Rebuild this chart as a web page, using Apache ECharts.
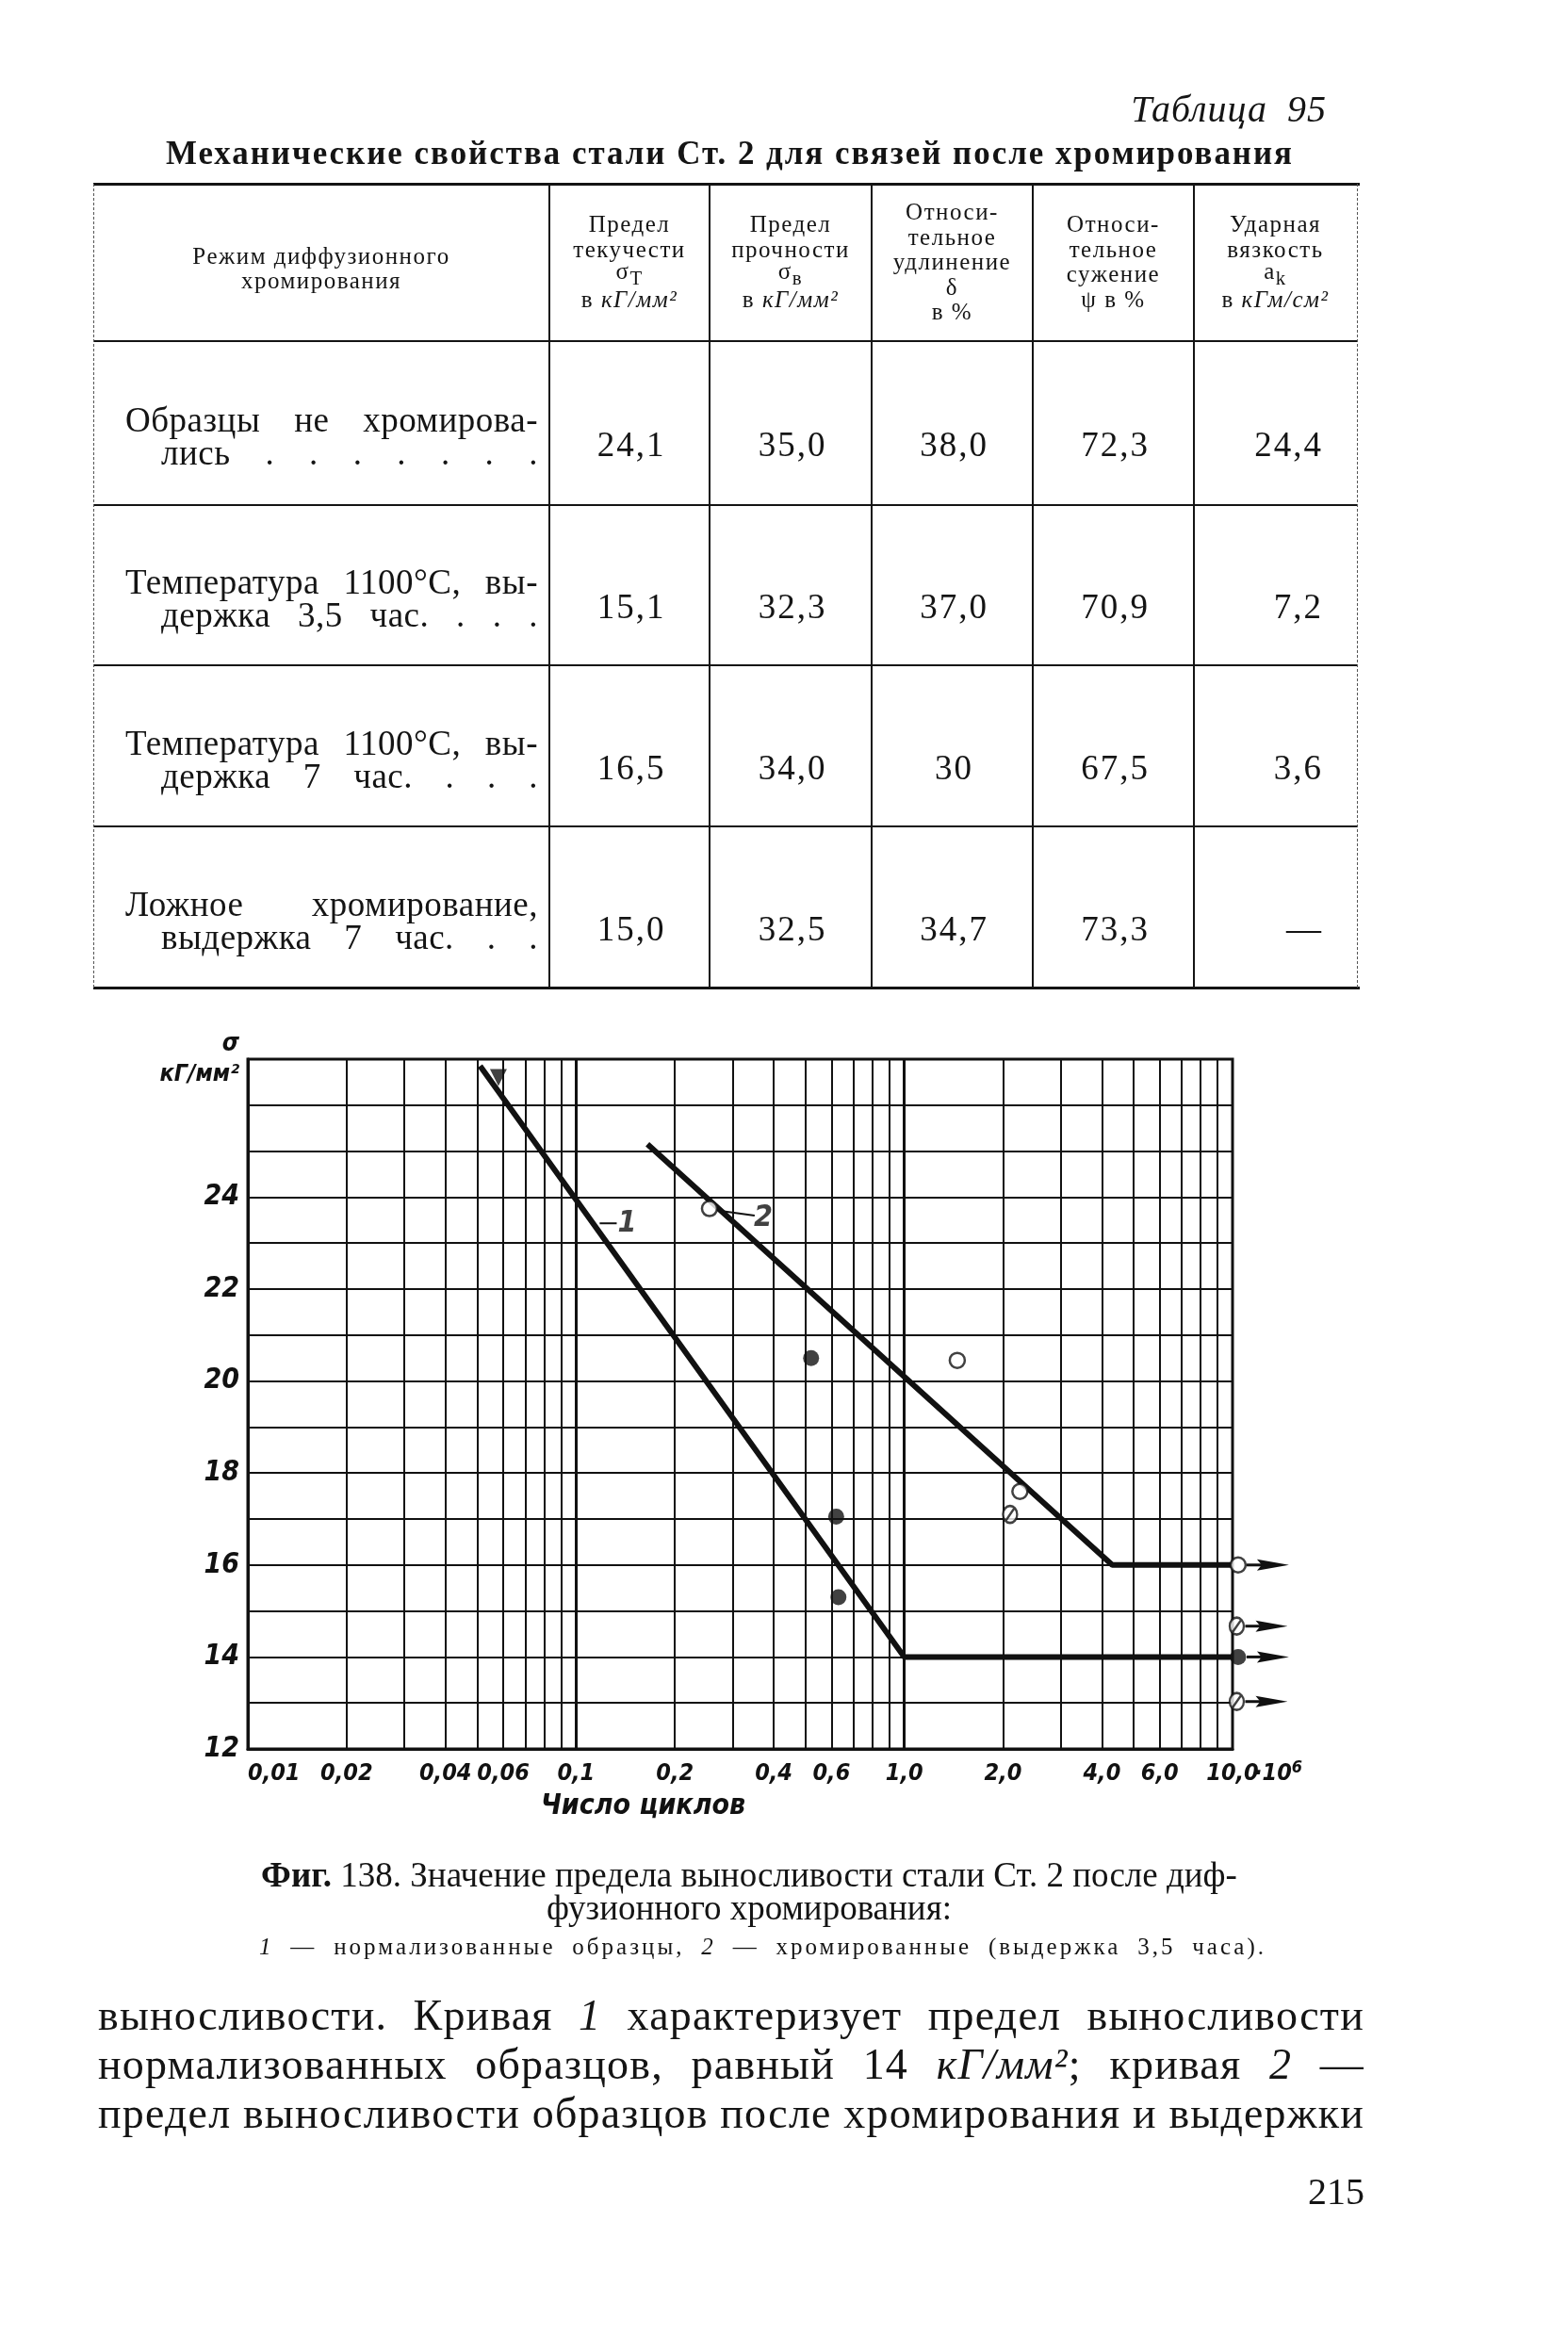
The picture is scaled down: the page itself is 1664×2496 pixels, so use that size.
<!DOCTYPE html>
<html><head><meta charset="utf-8">
<script src="https://cdn.jsdelivr.net/npm/echarts@6/dist/echarts.min.js"></script>
<style>
html,body{margin:0;padding:0;background:#fff;}
#page{position:relative;width:1664px;height:2496px;overflow:hidden;background:#fff;font-family:'Liberation Serif','DejaVu Serif',serif;color:#141414;}
#chart{position:absolute;left:0;top:0;width:1664px;height:2496px;z-index:1;}
.t{position:absolute;white-space:nowrap;z-index:2;pointer-events:none;}
.ln{position:absolute;background:#141414;z-index:2;}
</style></head><body><div id="page"><div id="chart"></div></div>
<script>
// ---------- DATA ----------
const tableNumber = 'Таблица 95';
const tableTitle = 'Механические свойства стали Ст. 2 для связей после хромирования';
const columnHeaders = [
  ['Режим диффузионного', 'хромирования'],
  ['Предел', 'текучести', 'σ<sub>T</sub>', 'в <i>кГ/мм²</i>'],
  ['Предел', 'прочности', 'σ<sub>в</sub>', 'в <i>кГ/мм²</i>'],
  ['Относи-', 'тельное', 'удлинение', 'δ', 'в %'],
  ['Относи-', 'тельное', 'сужение', 'ψ в %'],
  ['Ударная', 'вязкость', 'a<sub>k</sub>', 'в <i>кГм/см²</i>']
];
const rowLabels = [
  ['Образцы не хромирова-', 'лись . . . . . . .'],
  ['Температура 1100°С, вы-', 'держка 3,5 час. . . .'],
  ['Температура 1100°С, вы-', 'держка 7 час. . . .'],
  ['Ложное хромирование,', 'выдержка 7 час. . .']
];
const rowValues = [
  ['24,1', '35,0', '38,0', '72,3', '24,4'],
  ['15,1', '32,3', '37,0', '70,9', '7,2'],
  ['16,5', '34,0', '30', '67,5', '3,6'],
  ['15,0', '32,5', '34,7', '73,3', '—']
];
const xTickValues = [0.01, 0.02, 0.04, 0.06, 0.1, 0.2, 0.4, 0.6, 1, 2, 4, 6, 10];
const xTickLabels = ['0,01', '0,02', '0,04', '0,06', '0,1', '0,2', '0,4', '0,6', '1,0', '2,0', '4,0', '6,0', '10,0'];
const xMaxSuffix = '·10';
const xMaxExponent = '6';
const xGridValues = [0.02,0.03,0.04,0.05,0.06,0.07,0.08,0.09,0.1,0.2,0.3,0.4,0.5,0.6,0.7,0.8,0.9,1,2,3,4,5,6,7,8,9];
const yLabelValues = [12, 14, 16, 18, 20, 22, 24];
const curve1 = [[0.051, 26.85], [1.0, 14], [10, 14]];
const curve2 = [[0.165, 25.15], [4.3, 16], [10, 16]];
const filledPoints = [[0.52, 20.5], [0.62, 17.05], [0.63, 15.3], [10.4, 14]];
const openPoints = [[0.255, 23.75], [1.45, 20.45], [2.25, 17.6], [10.4, 16]];
const slashedPoints = [[2.1, 17.1], [10.3, 14.67], [10.3, 13.03]];
const trianglePoints = [[0.058, 26.6]];
const runoutPoints = [[10.4, 16], [10.3, 14.67], [10.4, 14], [10.3, 13.03]];
const curveLabels = [{name: '1', value: [0.143, 23.43]}, {name: '2', value: [0.372, 23.55]}];
const leader1 = [[0.118, 23.43], [0.133, 23.43]];
const leader2 = [[0.275, 23.7], [0.35, 23.6]];
const captionLines = ['<b>Фиг.</b> 138. Значение предела выносливости стали Ст. 2 после диф-', 'фузионного хромирования:'];
const captionLegend = '<i>1</i> — нормализованные образцы, <i>2</i> — хромированные (выдержка 3,5 часа).';
const bodyLines = [
  'выносливости. Кривая <i>1</i> характеризует предел выносливости',
  'нормализованных образцов, равный 14 <i>кГ/мм²</i>; кривая <i>2</i> —',
  'предел выносливости образцов после хромирования и выдержки'
];
const pageNumber = '215';

// ---------- PAGE TEXT / TABLE ----------
const page = document.getElementById('page');
function txt(html, css) {
  const d = document.createElement('div');
  d.className = 't'; d.innerHTML = html;
  Object.assign(d.style, css || {});
  page.appendChild(d); return d;
}
function centerAt(d, x, y) { d.style.left = x + 'px'; d.style.top = y + 'px'; d.style.transform = 'translate(-50%,-50%)'; }
function rightAt(d, x, y) { d.style.left = x + 'px'; d.style.top = y + 'px'; d.style.transform = 'translate(-100%,-50%)'; }
function justify(d, x, y, w) {
  d.style.left = x + 'px'; d.style.top = y + 'px'; d.style.transform = 'translateY(-50%)';
  const nat = d.getBoundingClientRect().width;
  const gaps = (d.textContent.match(/ /g) || []).length;
  if (nat < w && gaps > 0) d.style.wordSpacing = ((w - nat) / gaps) + 'px';
  else if (nat > w) { d.style.transformOrigin = 'left center'; d.style.transform = 'translateY(-50%) scaleX(' + (w / nat) + ')'; }
}
function hline(x1, x2, y, th) { const d = document.createElement('div'); d.className = 'ln'; Object.assign(d.style, {left: x1 + 'px', top: (y - th / 2) + 'px', width: (x2 - x1) + 'px', height: th + 'px'}); page.appendChild(d); }
function vline(x, y1, y2, th, dashed) {
  const d = document.createElement('div'); d.className = 'ln';
  Object.assign(d.style, {left: (x - th / 2) + 'px', top: y1 + 'px', width: th + 'px', height: (y2 - y1) + 'px'});
  if (dashed) { d.style.background = 'none'; d.style.borderLeft = th + 'px dashed #555'; d.style.width = '0px'; }
  page.appendChild(d);
}

rightAt(txt(tableNumber, {fontSize: '40px', fontStyle: 'italic', letterSpacing: '1px', wordSpacing: '10px'}), 1408, 115);
justify(txt(tableTitle, {fontSize: '35px', fontWeight: 'bold', letterSpacing: '2px'}), 176, 163, 1197);

const colX = [99, 583, 753, 925, 1096, 1267, 1440];
const rowY = [362, 536, 706, 877, 1048];
hline(99, 1443, 195, 3);
hline(99, 1440, 362, 2);
hline(99, 1440, 536, 2);
hline(99, 1440, 706, 2);
hline(99, 1440, 877, 2);
hline(99, 1443, 1048, 3);
for (let i = 1; i < colX.length - 1; i++) vline(colX[i], 195, 1048, 2);
vline(colX[0], 195, 1048, 1, true);
vline(colX[colX.length - 1], 195, 1048, 1, true);

columnHeaders.forEach((lines, ci) => {
  const cx = (colX[ci] + colX[ci + 1]) / 2;
  const center = ci === 0 ? 285 : 278;
  const step = ci === 0 ? 26 : 26.5;
  lines.forEach((l, li) => {
    const y = center + (li - (lines.length - 1) / 2) * step;
    centerAt(txt(l, {fontSize: '25px', letterSpacing: '1.5px', lineHeight: '26px'}), cx, y);
  });
});

rowLabels.forEach((lines, ri) => {
  const c = (rowY[ri] + rowY[ri + 1]) / 2;
  justify(txt(lines[0], {fontSize: '37px', letterSpacing: '0.5px'}), 133, c - 4, 438);
  justify(txt(lines[1], {fontSize: '37px', letterSpacing: '0.5px'}), 171, c + 31, 400);
  rowValues[ri].forEach((v, vi) => {
    const ci = vi + 1;
    const d = txt(v, {fontSize: '37px', letterSpacing: '2px'});
    if (ci === 5) rightAt(d, colX[6] - 36, c + 22);
    else centerAt(d, (colX[ci] + colX[ci + 1]) / 2 + 2, c + 22);
  });
});

centerAt(txt(captionLines[0], {fontSize: '37px'}), 795, 1989);
centerAt(txt(captionLines[1], {fontSize: '37px'}), 795, 2024);
justify(txt(captionLegend, {fontSize: '25px', letterSpacing: '3px'}), 275, 2066, 1069);
bodyLines.forEach((l, i) => justify(txt(l, {fontSize: '46px', letterSpacing: '1.2px'}), 104, 2138 + i * 52, 1344));
rightAt(txt(pageNumber, {fontSize: '40px'}), 1448, 2325);

// ---------- CHART ----------
const chartFont = "'Liberation Sans Narrow','DejaVu Sans Condensed','DejaVu Sans',sans-serif";
const chart = echarts.init(document.getElementById('chart'), null, {renderer: 'canvas'});
function xLabel(v) {
  let idx = -1, best = 1e9;
  xTickValues.forEach((t, i) => { const d = Math.abs(Math.log10(t) - Math.log10(v)); if (d < best) { best = d; idx = i; } });
  if (idx < 0 || best > 1e-3) return '';
  return xTickLabels[idx];
}
const labelStyle = {color: '#111', fontStyle: 'italic', fontWeight: 'bold', fontFamily: chartFont};
const option = {
  animation: false,
  grid: {left: 263, top: 1124, width: 1045, height: 732, show: true, borderColor: '#111', borderWidth: 3, backgroundColor: 'rgba(0,0,0,0)', containLabel: false},
  xAxis: {
    type: 'log', logBase: 10, min: 0.01, max: 10,
    axisLine: {show: true, lineStyle: {color: '#111', width: 3}},
    axisTick: {show: false}, splitLine: {show: false}, minorTick: {show: false}, minorSplitLine: {show: false},
    axisLabel: Object.assign({customValues: xTickValues, formatter: xLabel, fontSize: 25, margin: 14, alignMinLabel: 'left',
      showMaxLabel: true, showMinLabel: true, hideOverlap: false}, labelStyle),
    name: 'Число циклов', nameLocation: 'middle', nameGap: 46,
    nameTextStyle: Object.assign({fontSize: 30, padding: [0, 206, 0, 0]}, labelStyle)
  },
  yAxis: {
    type: 'value', min: 12, max: 27, interval: 1,
    axisLine: {show: true, lineStyle: {color: '#111', width: 3}},
    axisTick: {show: false},
    splitLine: {show: true, lineStyle: {color: '#111', width: 2}},
    axisLabel: Object.assign({
      fontSize: 30, margin: 9,
      formatter: v => yLabelValues.indexOf(v) >= 0 ? String(v) : (v === 27 ? '{s|σ}\n{u|кГ/мм²}' : ''),
      rich: {
        s: Object.assign({fontSize: 26, lineHeight: 32, align: 'right'}, labelStyle),
        u: Object.assign({fontSize: 25, lineHeight: 32, align: 'right'}, labelStyle)
      }}, labelStyle)
  },
  series: [
    {type: 'line', data: [], z: 1, silent: true,
     markLine: {silent: true, symbol: ['none', 'none'], label: {show: false},
       lineStyle: {color: '#111', type: 'solid', width: 2},
       data: xGridValues.map(v => ({xAxis: v, lineStyle: {width: (v === 0.1 || v === 1) ? 3 : 2}}))}},
    {type: 'line', data: curve1, symbol: 'none', z: 5, lineStyle: {color: '#111', width: 6}},
    {type: 'line', data: curve2, symbol: 'none', z: 5, lineStyle: {color: '#111', width: 6}},
    {type: 'line', data: leader1, symbol: 'none', z: 5, lineStyle: {color: '#111', width: 2}},
    {type: 'line', data: leader2, symbol: 'none', z: 5, lineStyle: {color: '#111', width: 2}},
    {type: 'scatter', data: filledPoints, clip: false, z: 7, symbol: 'circle', symbolSize: 17, itemStyle: {color: '#111'}},
    {type: 'scatter', data: openPoints, clip: false, z: 7, symbol: 'circle', symbolSize: 16, itemStyle: {color: '#fff', borderColor: '#111', borderWidth: 2.5}},
    {type: 'scatter', data: slashedPoints, clip: false, z: 7, symbol: 'path://M50,3A47,47,0,1,1,49.9,3ZM20,86L80,14', symbolSize: [15, 18], itemStyle: {color: '#fff', borderColor: '#111', borderWidth: 2.5}},
    {type: 'scatter', data: trianglePoints, clip: false, z: 7, symbol: 'triangle', symbolRotate: 180, symbolSize: [18, 18], itemStyle: {color: '#111'}},
    {type: 'scatter', data: curveLabels, clip: false, z: 7, symbolSize: 1, itemStyle: {color: 'rgba(0,0,0,0)'},
     label: Object.assign({show: true, position: 'inside', formatter: p => p.name, fontSize: 32}, labelStyle)},
    {type: 'scatter', data: [[xTickValues[xTickValues.length - 1], 12]], clip: false, z: 7, symbolSize: 1, silent: true, itemStyle: {color: 'rgba(0,0,0,0)'},
     label: {show: true, position: 'inside', align: 'left', verticalAlign: 'top', offset: [23, 11], color: '#111', opacity: 1,
       formatter: '{b|' + xMaxSuffix + '}{c|' + xMaxExponent + '}',
       rich: {
         b: Object.assign({fontSize: 25}, labelStyle),
         c: Object.assign({fontSize: 18, verticalAlign: 'bottom', padding: [0, 0, 12, 0]}, labelStyle)
       }}},
    {type: 'custom', data: runoutPoints, clip: false, z: 6, silent: true,
     renderItem: function (params, api) {
       const p = api.coord([api.value(0), api.value(1)]);
       const x = p[0], y = p[1];
       return {type: 'group', children: [
         {type: 'line', shape: {x1: x + 9, y1: y, x2: x + 26, y2: y}, style: {stroke: '#111', lineWidth: 3}},
         {type: 'polygon', shape: {points: [[x + 20, y - 6], [x + 54, y], [x + 20, y + 6], [x + 25, y]]}, style: {fill: '#111'}}
       ]};
     }}
  ]
};
chart.setOption(option);
</script></body></html>
